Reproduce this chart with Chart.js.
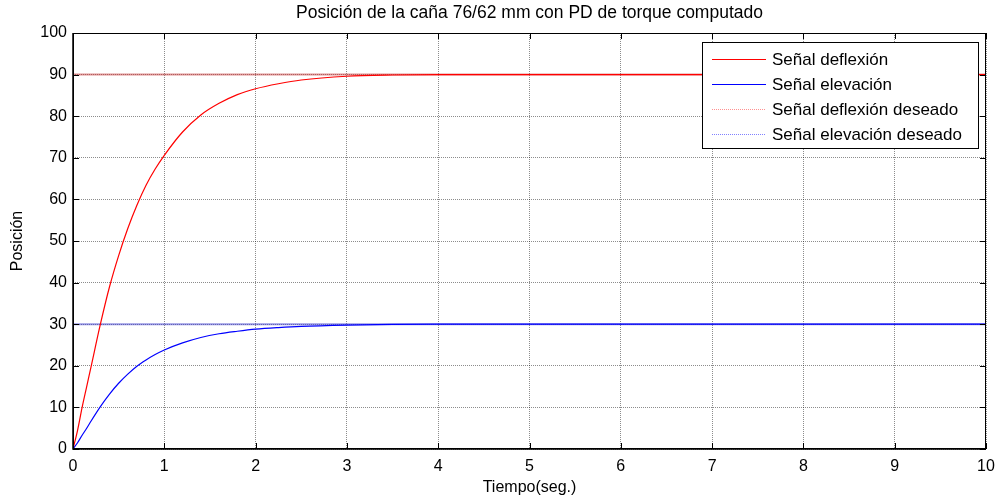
<!DOCTYPE html>
<html lang="es">
<head>
  <meta charset="UTF-8">
  <title>Posición de la caña 76/62 mm</title>
  <script src="https://cdn.jsdelivr.net/npm/chart.js"></script>
  <style>
    body { margin: 0; background: #fff; }
    canvas { display: block; }
  </style>
</head>
<body>
<canvas id="grafico" width="997" height="500"></canvas>
<script>
// valores
const tiempo    = [0, 0.05, 0.1, 0.15, 0.2, 0.3, 0.4, 0.5, 0.6, 0.7, 0.8, 0.9, 1.0, 1.2, 1.4, 1.6, 1.8, 2.0, 2.25, 2.5, 3.0, 3.5, 4.0, 5.0, 10];
const deflexion = [0, 4.5, 10, 15, 20, 30, 39, 46.5, 53, 58.6, 63.4, 67.3, 70.6, 76.2, 80.3, 83.1, 85.2, 86.6, 87.8, 88.7, 89.6, 89.9, 90, 90, 90];
const elevacion = [0, 1.5, 3.3, 5, 6.8, 10.2, 13.2, 15.8, 18, 19.9, 21.4, 22.7, 23.8, 25.5, 26.8, 27.7, 28.3, 28.8, 29.2, 29.5, 29.8, 29.95, 30, 30, 30];
const tiempoDeseado = [0, 10];
const deflexionDeseada = [90, 90];
const elevacionDeseada = [30, 30];

const etiquetas = ['Señal deflexión', 'Señal elevación', 'Señal deflexión deseado', 'Señal elevación deseado'];
const titulo = 'Posición de la caña 76/62 mm con PD de torque computado';

const FUENTE = '"Liberation Sans", Arial, sans-serif';

function puntos(xs, ys) {
  return xs.map((x, i) => ({ x, y: ys[i] }));
}

// titulo, ejes, marco, marcas interiores y leyenda
const decoracion = {
  id: 'decoracion',
  afterDraw(chart) {
    const ctx = chart.ctx;
    const a = chart.chartArea;
    const sx = chart.scales.x, sy = chart.scales.y;
    ctx.save();
    ctx.fillStyle = '#000';
    ctx.textAlign = 'center';
    ctx.textBaseline = 'middle';
    ctx.font = '17.5px ' + FUENTE;
    ctx.fillText(titulo, (a.left + a.right) / 2, 13);
    ctx.font = '16px ' + FUENTE;
    ctx.fillText('Tiempo(seg.)', (a.left + a.right) / 2, 488);
    ctx.save();
    ctx.translate(18, (a.top + a.bottom) / 2);
    ctx.rotate(-Math.PI / 2);
    ctx.fillText('Posición', 0, 0);
    ctx.restore();

    // marco
    ctx.strokeStyle = '#000';
    ctx.lineWidth = 1;
    ctx.strokeRect(a.left + 0.5, a.top + 0.5, a.right - a.left - 1, a.bottom - a.top - 1);
    ctx.lineWidth = 1.5;
    ctx.beginPath();
    ctx.moveTo(a.left, a.top); ctx.lineTo(a.left, a.bottom); ctx.lineTo(a.right, a.bottom);
    ctx.stroke();

    // marcas hacia adentro
    ctx.lineWidth = 1;
    ctx.beginPath();
    sx.ticks.forEach(t => {
      const px = Math.round(sx.getPixelForValue(t.value)) + 0.5;
      ctx.moveTo(px, a.bottom); ctx.lineTo(px, a.bottom - 6);
      ctx.moveTo(px, a.top); ctx.lineTo(px, a.top + 6);
    });
    sy.ticks.forEach(t => {
      const py = Math.round(sy.getPixelForValue(t.value)) + 0.5;
      ctx.moveTo(a.left, py); ctx.lineTo(a.left + 6, py);
      ctx.moveTo(a.right, py); ctx.lineTo(a.right - 6, py);
    });
    ctx.stroke();

    // leyenda
    const L = { x: 702, y: 42, w: 276, h: 106 };
    ctx.fillStyle = '#fff';
    ctx.fillRect(L.x, L.y, L.w, L.h);
    ctx.strokeStyle = '#000';
    ctx.lineWidth = 1;
    ctx.strokeRect(L.x + 0.5, L.y + 0.5, L.w, L.h);
    ctx.font = '17px ' + FUENTE;
    ctx.textAlign = 'left';
    chart.data.datasets.forEach((ds, i) => {
      const yy = 59 + i * 25;
      ctx.save();
      ctx.strokeStyle = ds.legendColor || ds.borderColor;
      ctx.lineWidth = 1.2;
      ctx.setLineDash(ds.legendDash || []);
      ctx.beginPath();
      ctx.moveTo(712, yy + 0.5); ctx.lineTo(766, yy + 0.5);
      ctx.stroke();
      ctx.restore();
      ctx.fillStyle = '#000';
      ctx.fillText(ds.label, 772, yy + 1);
    });
    ctx.restore();
  }
};

new Chart(document.getElementById('grafico'), {
  type: 'line',
  data: {
    datasets: [
      { label: etiquetas[0], data: puntos(tiempo, deflexion), borderColor: '#ff0000', borderWidth: 1.2, cubicInterpolationMode: 'monotone' },
      { label: etiquetas[1], data: puntos(tiempo, elevacion), borderColor: '#0000ff', borderWidth: 1.2, cubicInterpolationMode: 'monotone' },
      { label: etiquetas[2], data: puntos(tiempoDeseado, deflexionDeseada), borderColor: 'rgba(200,60,60,0.55)', legendColor: '#ff9090', legendDash: [1, 1], borderWidth: 2 },
      { label: etiquetas[3], data: puntos(tiempoDeseado, elevacionDeseada), borderColor: 'rgba(70,70,210,0.55)', legendColor: '#8080ff', legendDash: [1, 1], borderWidth: 2 }
    ]
  },
  options: {
    responsive: false,
    animation: false,
    layout: { padding: { left: 0, right: 11, top: 33, bottom: 0 } },
    elements: { point: { radius: 0 }, line: { tension: 0 } },
    plugins: { legend: { display: false }, title: { display: false }, tooltip: { enabled: false } },
    scales: {
      x: {
        type: 'linear', min: 0, max: 10,
        ticks: { stepSize: 1, color: '#000', padding: 8, maxRotation: 0, font: { family: FUENTE, size: 16 } },
        grid: { color: 'rgba(0,0,0,0.45)', drawTicks: false },
        border: { display: false, dash: [1, 1] },
        afterFit(s) { s.height = 51; s.paddingLeft = 0; s.paddingRight = 0; }
      },
      y: {
        min: 0, max: 100,
        ticks: { stepSize: 10, color: '#000', padding: 6, font: { family: FUENTE, size: 16 } },
        grid: { color: 'rgba(0,0,0,0.45)', drawTicks: false },
        border: { display: false, dash: [1, 1] },
        afterFit(s) { s.width = 73; s.paddingTop = 0; s.paddingBottom = 0; }
      }
    }
  },
  plugins: [decoracion]
});
</script>
</body>
</html>
